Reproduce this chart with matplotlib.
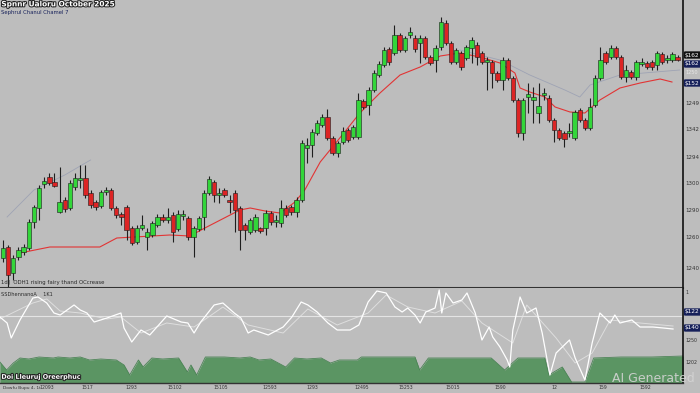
import matplotlib
matplotlib.use('Agg')
import matplotlib.pyplot as plt
import matplotlib.patheffects as pe

# daily candles, oldest first
opens = [1082, 1093, 1067, 1083, 1088, 1092, 1118, 1132, 1156, 1163,
         1158, 1128, 1140, 1132, 1153, 1160, 1162, 1147, 1138, 1134,
         1148, 1150, 1132, 1126, 1133, 1112, 1098, 1112, 1103, 1105,
         1115, 1123, 1120, 1125, 1111, 1124, 1122, 1103, 1111, 1123,
         1147, 1158, 1145, 1150, 1140, 1147, 1132, 1115, 1108, 1110,
         1112, 1112, 1127, 1118, 1117, 1132, 1133, 1128, 1140, 1192,
         1195, 1207, 1215, 1223, 1202, 1187, 1198, 1210, 1203, 1203,
         1239, 1235, 1250, 1265, 1275, 1291, 1287, 1305, 1290, 1305,
         1302, 1297, 1302, 1283, 1280, 1293, 1317, 1297, 1278, 1287,
         1282, 1292, 1295, 1287, 1278, 1278, 1267, 1260, 1280, 1262,
         1240, 1207, 1243, 1240, 1227, 1245, 1242, 1220, 1210, 1207,
         1207, 1202, 1230, 1220, 1212, 1235, 1262, 1287, 1283, 1292,
         1283, 1263, 1268, 1263, 1276, 1277, 1278, 1275, 1286, 1280,
         1280, 1283]
highs = [1100, 1095, 1085, 1093, 1096, 1121, 1135, 1155, 1163, 1167,
         1167, 1173, 1143, 1160, 1167, 1175, 1175, 1150, 1140, 1150,
         1153, 1152, 1134, 1128, 1135, 1114, 1115, 1125, 1112, 1119,
         1126, 1126, 1132, 1128, 1130, 1130, 1124, 1114, 1124, 1150,
         1164, 1160, 1152, 1152, 1145, 1150, 1134, 1117, 1122, 1126,
         1113, 1130, 1129, 1125, 1140, 1135, 1135, 1143, 1200, 1202,
         1211, 1220, 1226, 1231, 1204, 1199, 1213, 1212, 1215, 1247,
         1241, 1253, 1270, 1279, 1293, 1293, 1315, 1307, 1304, 1313,
         1305, 1305, 1304, 1285, 1295, 1323, 1320, 1299, 1292, 1289,
         1295, 1303, 1298, 1289, 1283, 1280, 1269, 1283, 1282, 1264,
         1242, 1242, 1257, 1253, 1257, 1252, 1245, 1222, 1212, 1209,
         1217, 1230, 1232, 1222, 1242, 1265, 1293, 1289, 1295, 1294,
         1285, 1275, 1270, 1280, 1282, 1279, 1280, 1289, 1288, 1285,
         1288, 1285]
lows = [1078, 1053, 1060, 1080, 1085, 1090, 1112, 1120, 1152, 1155,
        1153, 1127, 1128, 1130, 1150, 1152, 1142, 1132, 1130, 1132,
        1145, 1130, 1122, 1115, 1100, 1095, 1096, 1110, 1090, 1103,
        1113, 1118, 1117, 1098, 1109, 1120, 1100, 1083, 1109, 1110,
        1145, 1138, 1137, 1143, 1127, 1108, 1090, 1100, 1106, 1108,
        1107, 1105, 1115, 1113, 1113, 1123, 1125, 1123, 1138, 1177,
        1183, 1205, 1213, 1200, 1185, 1183, 1196, 1198, 1201, 1201,
        1231, 1225, 1248, 1263, 1273, 1275, 1285, 1288, 1288, 1302,
        1288, 1277, 1281, 1275, 1268, 1290, 1295, 1276, 1276, 1270,
        1280, 1277, 1275, 1276, 1250, 1252, 1258, 1250, 1260, 1238,
        1203, 1200, 1227, 1217, 1217, 1240, 1218, 1198, 1200, 1193,
        1203, 1200, 1218, 1210, 1210, 1233, 1260, 1276, 1281, 1281,
        1261, 1258, 1261, 1260, 1274, 1271, 1270, 1270, 1276, 1277,
        1278, 1279]
closes = [1092, 1065, 1082, 1090, 1093, 1118, 1133, 1152, 1159, 1157,
          1154, 1138, 1131, 1157, 1162, 1162, 1145, 1135, 1133, 1148,
          1150, 1132, 1125, 1123, 1110, 1097, 1112, 1115, 1108, 1117,
          1123, 1120, 1123, 1108, 1126, 1126, 1103, 1112, 1122, 1147,
          1161, 1145, 1147, 1145, 1138, 1130, 1110, 1110, 1120, 1123,
          1109, 1127, 1118, 1120, 1132, 1125, 1128, 1140, 1197, 1195,
          1208, 1217, 1223, 1202, 1187, 1197, 1209, 1200, 1213, 1240,
          1233, 1250, 1267, 1276, 1290, 1278, 1305, 1290, 1302, 1308,
          1291, 1302, 1283, 1277, 1292, 1318, 1297, 1278, 1290, 1273,
          1293, 1300, 1283, 1278, 1280, 1267, 1260, 1280, 1262, 1240,
          1207, 1240, 1246, 1243, 1234, 1247, 1220, 1210, 1202, 1201,
          1209, 1228, 1220, 1212, 1233, 1262, 1280, 1278, 1292, 1283,
          1263, 1270, 1263, 1278, 1278, 1273, 1273, 1287, 1278, 1282,
          1286, 1280]

# slow moving average (red)
ma_x = [3.3, 9.1, 18.8, 22.1, 32.4, 36.3, 39.2, 44.1, 46, 48, 50.9, 53.8,
        56.7, 58.6, 61.6, 65.4, 69.3, 73.2, 77.1, 81, 84.9, 88.7, 92.6, 96.5,
        99.4, 100.4, 102.3, 105.2, 107.2, 110.1, 113, 115.9, 119.8, 123.7,
        127.6, 129.9]
ma_y = [1087, 1093, 1093, 1102, 1105, 1104, 1112, 1125, 1130, 1132, 1129, 1127,
        1138, 1150, 1178, 1202, 1227, 1247, 1265, 1273, 1284, 1287, 1283, 1277,
        1267, 1252, 1248, 1243, 1233, 1228, 1227, 1240, 1252, 1257,
        1261, 1258]
# faint fast average
fast_x = [0.8, 6, 12, 17, None, 88.7, 96.5, 102.3, 109.1, 112, 114, 119.8, 131.4]
fast_y = [1123, 1150, 1165, 1180, None, 1290, 1280, 1265, 1250, 1243, 1255, 1265, 1270]

# oscillator
osc_x = [-0.6, 0.8, 1.6, 3.3, 5.8, 6.8, 8.5, 9.9, 11.1, 13.8, 15.0, 16.3, 17.7,
         20.2, 22.9, 23.5, 25.0, 26.8, 28.5, 31.8, 34.6, 35.9, 37.1, 38.4, 41.0,
         42.7, 44.9, 46.2, 47.6, 48.7, 51.5, 54.4, 56.1, 57.9, 59.2, 61.0, 63.1,
         64.9, 67.4, 69.1, 70.9, 72.6, 74.4, 76.1, 77.5, 78.6, 80.0, 81.0, 82.1,
         83.9, 84.7, 85.2, 86.0, 87.4, 89.1, 90.1, 91.7, 93.0, 94.4, 95.1, 96.5,
         97.9, 98.4, 99.0, 100.4, 101.7, 103.5, 104.7, 106.2, 107.4, 110.0, 111.1,
         113.0, 114.4, 115.9, 117.9, 118.8, 119.8, 122.1, 123.7, 126.2, 128.2, 130.1]
osc_y = [66, 60, 45, 63, 85, 86, 80, 70, 68, 78, 73, 70, 61,
         65, 70, 55, 41, 53, 48, 67, 61, 60, 50, 61, 78,
         80, 70, 65, 50, 53, 48, 56, 66, 81, 78, 71, 60,
         53, 53, 58, 81, 92, 90, 76, 71, 75, 68, 60, 71,
         75, 93, 70, 90, 80, 83, 90, 70, 43, 56, 46, 36,
         23, 16, 53, 86, 70, 75, 50, 8, 30, 43, 25,
         3, 40, 70, 60, 68, 60, 63, 56, 56, 55, 54]
sig_x = [-0.6, 5.8, 8.5, 11.1, 15, 20.2, 22.9, 26.8, 31.8, 37.1, 42.7, 47.6, 54.4,
         59.2, 64.9, 70.9, 74.4, 78.6, 83.9, 89.1, 93, 99, 101.7, 107.4, 111.1,
         114.4, 117.9, 123.7, 130.1]
sig_y = [64, 80, 84, 72, 70, 64, 66, 50, 60, 56, 76, 58, 50,
         74, 58, 70, 88, 76, 70, 82, 60, 40, 78, 45, 20,
         30, 63, 60, 57]
osc_level = 67

# volume-like area
area_x = [-0.6, 0.7, 2.0, 3.3, 5, 7, 9.8, 10.7, 13, 15.0, 16.8, 19, 22.0, 23.5,
          24.6, 26.3, 27.2, 28.9, 31, 34.1, 35.8, 36.5, 37.6, 39.3, 43, 46, 48.0,
          49.7, 52, 54.9, 56.6, 59, 61.8, 63.6, 65.3, 68.8, 69.6, 75, 80.0, 80.9,
          82.6, 88, 94.8, 97.4, 100.0, 105.2, 106.0, 108.6, 110.4, 113.0, 114.7,
          120, 126, 132.1]
area_y = [21, 13, 20, 25, 24, 26, 25, 26, 25, 26, 23, 24, 23, 18,
          8, 23, 16, 25, 24, 25, 11, 18, 8, 26, 26, 25, 26,
          23, 24, 16, 25, 24, 25, 20, 23, 23, 26, 26, 26, 13,
          25, 25, 25, 13, 25, 25, 8, 16, 1, 1, 25,
          26, 26, 27]

price_ticks = [1237, 1211, 1183, 1157, 1130, 1103, 1072]
price_labels = ['1249', '1342', '1294', '1300', '1290', '1260', '1240']
date_ticks = [8.5, 16.3, 25.0, 33.4, 42.3, 51.8, 60.0, 69.7, 78.3, 87.4, 96.5, 107.0, 116.5, 124.7]
date_labels = ['12093', '1517', '1293', '15102', '15105', '12593', '1293', '12495',
               '15253', '15015', '1590', '12', '159', '1592']

BG = '#bdbdbd'
UP = '#33d63a'
DOWN = '#dc2424'
NAVY = '#16205a'

fig = plt.figure(figsize=(7, 3.93), dpi=100, facecolor=BG)
ax = fig.add_axes([0, 1 - 288 / 393, 683 / 700, 288 / 393], facecolor=BG)
ax2 = fig.add_axes([0, 10 / 393, 683 / 700, 95 / 393], facecolor=BG)

for i in range(len(opens)):
    o, h, l, c = opens[i], highs[i], lows[i], closes[i]
    col = UP if c >= o else DOWN
    ax.vlines(i, l, h, color='#1e1e1e', lw=0.8, zorder=2)
    body = max(abs(c - o), 1.5)
    ax.bar(i, body, bottom=min(o, c), width=0.85, color=col,
           edgecolor='#1a1a1a', lw=0.4, zorder=3)

ax.plot(ma_x, ma_y, color='#e23434', lw=0.8, zorder=1)
ax.plot(fast_x, fast_y, color='#9ea3b4', lw=0.6, zorder=1)

ax.set_xlim(-0.58, 132.04)
ax.set_ylim(1052, 1340)
ax.set_xticks([])
ax.yaxis.tick_right()
ax.set_yticks(price_ticks, price_labels)
ax.tick_params(axis='y', length=0, labelsize=4, pad=2, labelcolor='#333333')
for s in ['top', 'left']:
    ax.spines[s].set_visible(False)
ax.spines['right'].set_color('#111111')
ax.spines['right'].set_linewidth(1.2)
ax.spines['bottom'].set_color('#333333')
ax.spines['bottom'].set_linewidth(1.5)

yt = ax.get_yaxis_transform()
ax.text(1.003, 1285, '$162', transform=yt, fontsize=4.2, color='white', va='center',
        ha='left', clip_on=False, bbox=dict(boxstyle='round,pad=0.2', fc='#111111', ec='none'))
ax.text(1.003, 1276, '$162', transform=yt, fontsize=4.2, color='white', va='center',
        ha='left', clip_on=False, bbox=dict(boxstyle='round,pad=0.2', fc=NAVY, ec='none'))
ax.text(1.003, 1267, '1250', transform=yt, fontsize=3.6, color='#e8e8e8', va='center',
        ha='left', clip_on=False)
ax.text(1.003, 1257, '$152', transform=yt, fontsize=4.2, color='white', va='center',
        ha='left', clip_on=False, bbox=dict(boxstyle='round,pad=0.2', fc=NAVY, ec='none'))

outline = [pe.withStroke(linewidth=1.5, foreground='#222222')]
ax.text(0.002, 0.985, 'Spnnr Ualoru October 2025', transform=ax.transAxes, fontsize=5.3,
        fontweight='bold', color='white', va='center', ha='left', path_effects=outline)
ax.text(0.002, 0.957, 'Sephrul Chanul Chamel 7', transform=ax.transAxes, fontsize=3.8,
        color=NAVY, va='center', ha='left')
ax.text(0.002, 0.018, '1d]  ODH1 rising fairy thand OCcrease', transform=ax.transAxes,
        fontsize=3.9, color='#2a2a2a', va='center', ha='left')

# lower panel
ax2.fill_between(area_x, 0, area_y, color='#5b9563', lw=0, zorder=1)
ax2.plot(area_x, area_y, color='#4c8456', lw=0.6, zorder=1)
ax2.axhline(osc_level, color='#e4e4e4', lw=0.8, zorder=2)
ax2.plot(sig_x, sig_y, color='#e6e6e6', lw=0.7, alpha=0.8, zorder=2)
ax2.plot(osc_x, osc_y, color='white', lw=0.9, zorder=3)
ax2.set_xlim(-0.58, 132.04)
ax2.set_ylim(0, 95)
ax2.set_yticks([])
ax2.set_xticks(date_ticks, date_labels)
ax2.tick_params(axis='x', length=0, labelsize=3.3, pad=1.5, labelcolor='#333333')
for s in ['top', 'left']:
    ax2.spines[s].set_visible(False)
ax2.spines['right'].set_color('#111111')
ax2.spines['right'].set_linewidth(1.2)
ax2.spines['bottom'].set_color('#333333')
ax2.spines['bottom'].set_linewidth(1.0)

yt2 = ax2.get_yaxis_transform()
ax2.text(1.003, 71, '$122', transform=yt2, fontsize=4.2, color='white', va='center',
         ha='left', clip_on=False, bbox=dict(boxstyle='round,pad=0.2', fc=NAVY, ec='none'))
ax2.text(1.003, 55, '$140', transform=yt2, fontsize=4.2, color='white', va='center',
         ha='left', clip_on=False, bbox=dict(boxstyle='round,pad=0.2', fc=NAVY, ec='none'))
for v, lab in [(90, '1'), (43, '1250'), (20, '1202')]:
    ax2.text(1.004, v, lab, transform=yt2, fontsize=3.4, color='#333333', va='center',
             ha='left', clip_on=False)
ax2.text(0.002, 0.93, 'SSDhennanoA    1K1', transform=ax2.transAxes, fontsize=3.6,
         color='#2a2a2a', va='center', ha='left')
ax2.text(0.002, 0.06, 'Doi Lleuruj Oreerphuc', transform=ax2.transAxes, fontsize=4.6,
         fontweight='bold', color='white', va='center', ha='left', path_effects=outline)

fig.text(0.004, 5 / 393, 'Dowfu Bupu 4, 1t', fontsize=3.2, color='#333333',
         va='center', ha='left')
fig.text(0.993, 15 / 393, 'AI Generated', fontsize=9, color='#d4d4d4',
         va='center', ha='right', alpha=0.9)

fig.savefig('out.png', dpi=100, facecolor=BG)
